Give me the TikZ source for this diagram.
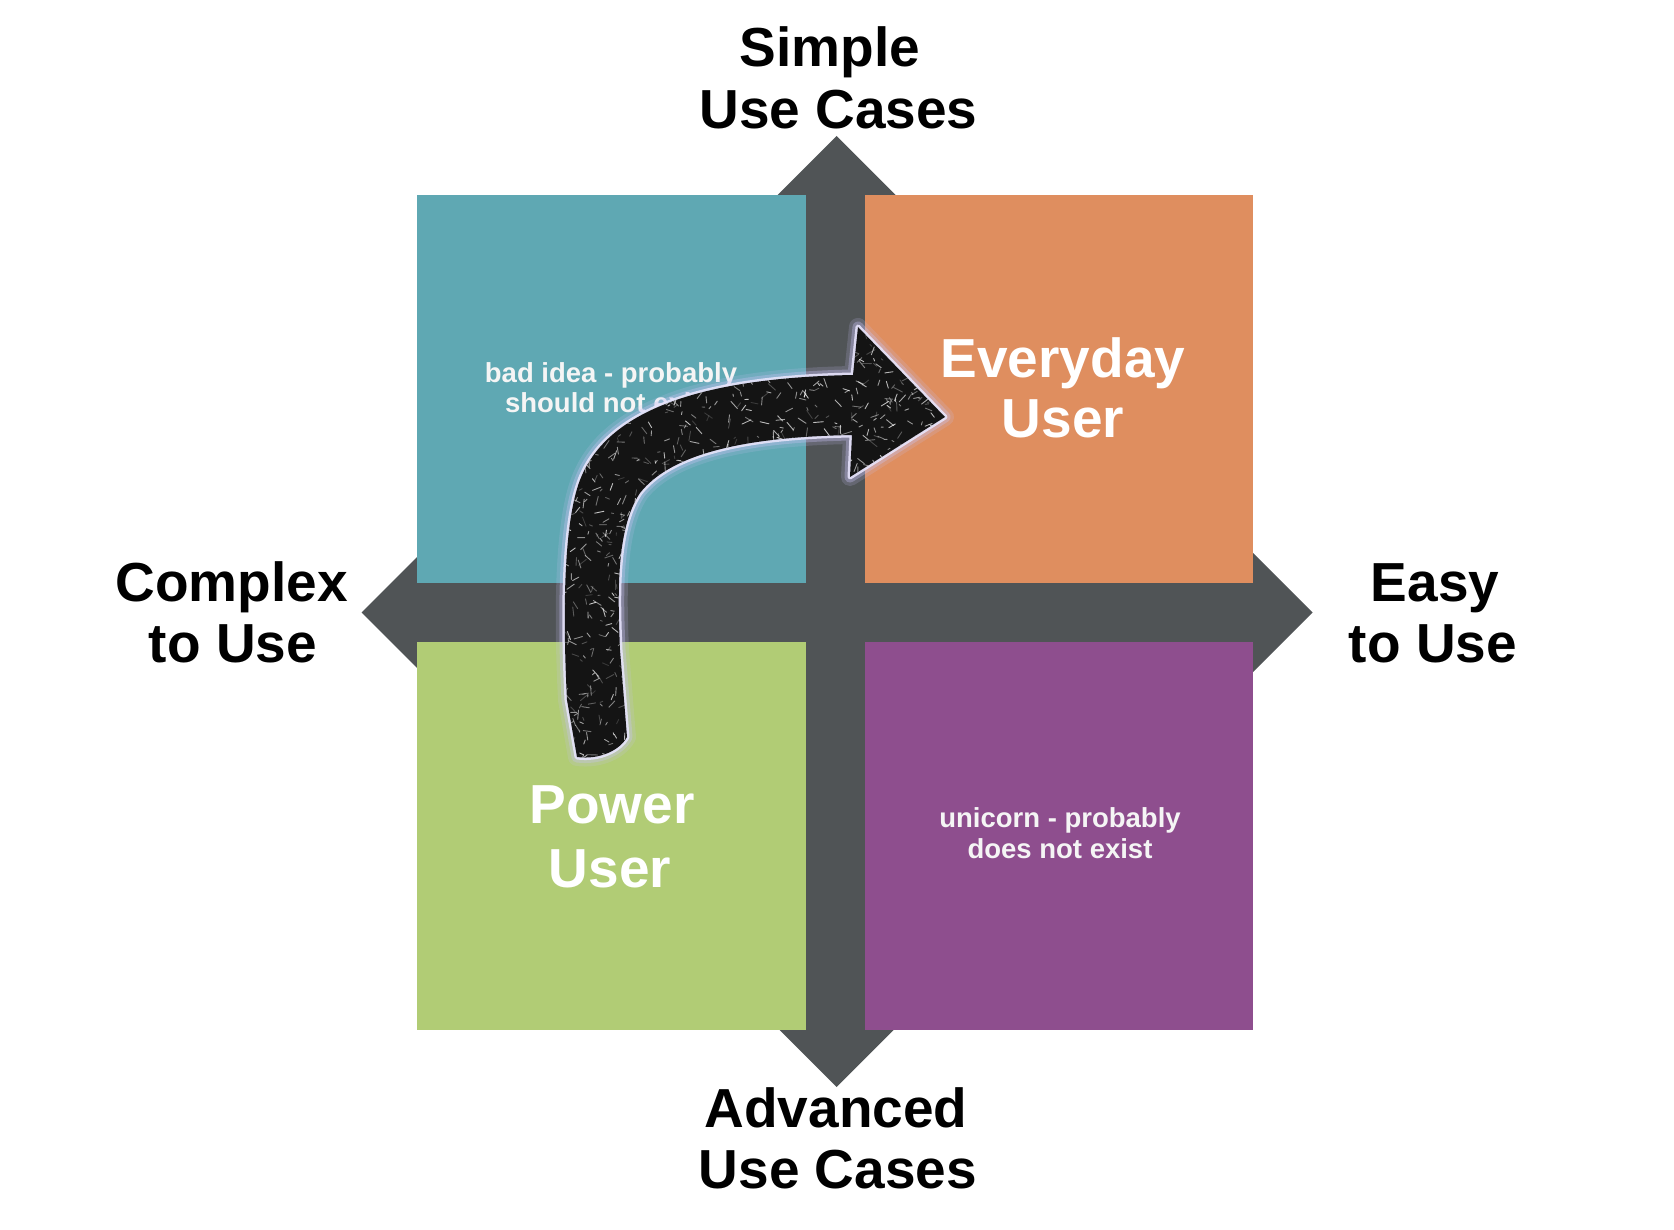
\documentclass[tikz,border=0pt]{standalone}
\usepackage{fontspec}
\setmainfont{Liberation Sans}
\definecolor{teal1}{HTML}{5FA8B3}
\definecolor{orange1}{HTML}{DF8E5F}
\definecolor{green1}{HTML}{B1CC75}
\definecolor{purple1}{HTML}{8E4E8E}
\definecolor{bar1}{HTML}{505456}
\definecolor{lav}{HTML}{C8C2F4}
\tikzset{
  quad/.style={inner sep=0pt, outer sep=0pt},
  biglabel/.style={anchor=base, inner sep=0pt, text=black, font=\fontsize{55}{61}\selectfont\bfseries},
  boxbig/.style={anchor=base, inner sep=0pt, text=white, font=\fontsize{55}{61}\selectfont\bfseries},
  boxsmall/.style={anchor=base, inner sep=0pt, text=white!96!black, font=\fontsize{27.5}{31}\selectfont\bfseries},
}
\def\arrowpath{(577,757) -- (567,700) .. controls (562,600) and (565,519) .. (580,480) .. controls (605,415) and (690,378) .. (853,375) -- (858,327) -- (945,417) -- (850,477) -- (852,435) .. controls (740,437) and (670,455) .. (640,493) .. controls (615,530) and (618,600) .. (620,650) -- (627,737) .. controls (620,750) and (600,760) .. (577,757) -- cycle}
\begin{document}
\begin{tikzpicture}[x=1pt,y=-1pt]
\useasboundingbox (0,0) rectangle (1674,1230);
\fill[white] (0,0) rectangle (1674,1230);
% cross with arrow heads
\fill[bar1] (806,195) rectangle (866,1030);
\fill[bar1] (417,583) rectangle (1253,642);
\fill[bar1] (836.5,136) -- (946.5,246) -- (726.5,246) -- cycle;
\fill[bar1] (836.5,1087) -- (946.5,977) -- (726.5,977) -- cycle;
\fill[bar1] (361.7,612.5) -- (471.7,502.5) -- (471.7,722.5) -- cycle;
\fill[bar1] (1312.7,612.5) -- (1202.7,502.5) -- (1202.7,722.5) -- cycle;
% quadrants
\node[quad, fill=teal1, minimum width=389pt, minimum height=388pt] (tl) at (611.5,389) {};
\node[quad, fill=orange1, minimum width=388pt, minimum height=388pt] (tr) at (1059,389) {};
\node[quad, fill=green1, minimum width=389pt, minimum height=388pt] (bl) at (611.5,836) {};
\node[quad, fill=purple1, minimum width=388pt, minimum height=388pt] (br) at (1059,836) {};
% axis labels
\node[biglabel] (s1) at (830,67) {Simple};
\node[biglabel] (s2) at (838.5,129) {Use Cases};
\node[biglabel] (c1) at (231.5,601) {Complex};
\node[biglabel] (c2) at (233,662) {to Use};
\node[biglabel] (e1) at (1435,601) {Easy};
\node[biglabel] (e2) at (1433,662) {to Use};
\node[biglabel] (a1) at (836,1127) {Advanced};
\node[biglabel] (a2) at (838,1188) {Use Cases};
% quadrant texts
\node[boxbig] (ev1) at (1063,378) {Everyday};
\node[boxbig] (ev2) at (1063,438) {User};
\node[boxbig] (pw1) at (612,823) {Power};
\node[boxbig] (pw2) at (610,887) {User};
\node[boxsmall] (bi1) at (611,383) {bad idea - probably};
\node[boxsmall] (bi2) at (610.5,413) {should not exist};
\node[boxsmall] (un1) at (1060,827) {unicorn - probably};
\node[boxsmall] (un2) at (1060,858) {does not exist};
% curved arrow with glow
\draw[lav, opacity=0.18, line width=18pt, line join=round] \arrowpath;
\draw[lav, opacity=0.35, line width=11pt, line join=round] \arrowpath;
\draw[white!55!lav, opacity=0.9, line width=5pt, line join=round] \arrowpath;
\fill[black!92] \arrowpath;
\begin{scope}
\clip \arrowpath;
\pgfmathsetseed{7}
\foreach \i in {1,...,1700}{
  \pgfmathsetmacro\xa{555+395*rnd}
  \pgfmathsetmacro\ya{320+440*rnd}
  \pgfmathsetmacro\an{360*rnd}
  \pgfmathsetmacro\ln{2+8*rnd}
  \pgfmathsetmacro\op{0.15+0.6*rnd}
  \draw[white, opacity=\op, line width=0.9pt, line cap=round] (\xa,\ya) -- ++(\an:\ln);
}
\end{scope}
\end{tikzpicture}
\end{document}
